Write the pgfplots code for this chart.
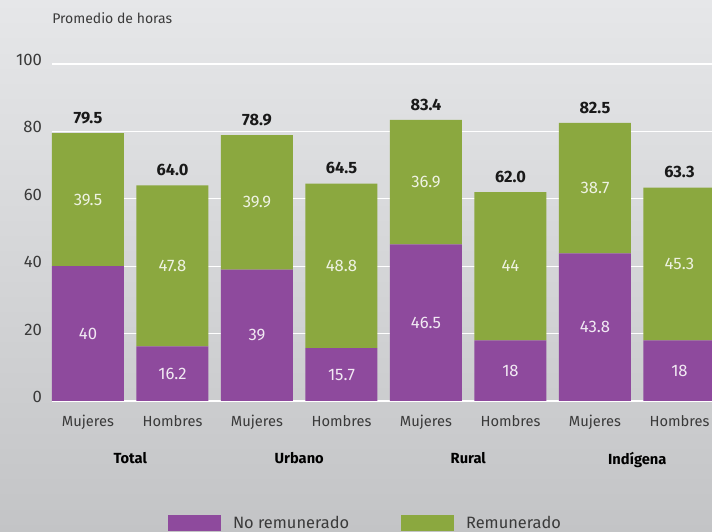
\documentclass[border=0pt]{standalone}
\usepackage{pgfplots}
\pgfplotsset{compat=1.18}
\usepackage{pgfplotstable}
\usepackage{fontspec}
\setmainfont{Fira Sans}
\usetikzlibrary{backgrounds}
\definecolor{barpurple}{HTML}{8E4A9D}
\definecolor{bargreen}{HTML}{8BA83F}
\definecolor{bgtop}{HTML}{E6E7E9}
\definecolor{bgbot}{HTML}{C3C4C6}
\definecolor{txt}{HTML}{3A3A3A}

\pgfplotstableread{
x p g t plab glab tlab
0 40 39.5 79.5 40 39.5 79.5
1 16.2 47.8 64.0 16.2 47.8 64.0
2 39 39.9 78.9 39 39.9 78.9
3 15.7 48.8 64.5 15.7 48.8 64.5
4 46.5 36.9 83.4 46.5 36.9 83.4
5 18 44 62.0 18 44 62.0
6 43.8 38.7 82.5 43.8 38.7 82.5
7 18 45.3 63.3 18 45.3 63.3
}\datatable

\pgfplotsset{common/.style={scale only axis, width=495pt, height=252.75pt,
  xmin=-0.426, xmax=7.385, ymin=0, ymax=100}}

\begin{document}
\begin{tikzpicture}
\begin{axis}[common, name=ax,
  ybar stacked, bar width=0.852,
  axis lines=left, axis line style={draw=none}, major tick length=0pt,
  ymajorgrids, grid style={white, line width=0.9pt},
  ytick={0,20,...,100},
  xtick={0,...,7},
  xticklabels={Mujeres,Hombres,Mujeres,Hombres,Mujeres,Hombres,Mujeres,Hombres},
  tick label style={font=\fontsize{11}{13}\selectfont, text=txt},
  yticklabel style={font=\fontsize{12.5}{14}\selectfont, xshift=-4pt, yshift=3pt},
  /pgf/number format/assume math mode=true,
  xticklabel style={yshift=-7pt},
  extra x ticks={0.5,2.5,4.5,6.5},
  extra x tick labels={Total,Urbano,Rural,Indígena},
  extra x tick style={xticklabel style={yshift=-28pt, font=\fontsize{11}{13}\selectfont\bfseries, text=black}},
  legend columns=2,
  legend style={at={(0.1758,-0.362)}, anchor=west, draw=none, fill=none,
    inner sep=0pt, outer sep=0pt, font=\fontsize{12.3}{14}\selectfont, text=txt,
    legend cell align=left,
    /tikz/every odd column/.append style={column sep=9pt},
    /tikz/every even column/.append style={column sep=39pt},
    nodes={inner sep=0pt}},
]
\addplot[fill=barpurple, draw=none,
  legend image code/.code={\fill[barpurple] (0pt,-6pt) rectangle (39.75pt,6pt);}]
  table[x=x,y=p]{\datatable};
\addplot[fill=bargreen, draw=none,
  legend image code/.code={\fill[bargreen] (0pt,-6pt) rectangle (39.75pt,6pt);}]
  table[x=x,y=g]{\datatable};
\legend{No remunerado, Remunerado}
\end{axis}

\begin{axis}[common, hide axis]
\addplot[draw=none, nodes near coords, point meta=explicit symbolic,
  nodes near coords style={anchor=center, font=\fontsize{12.5}{14}\selectfont, text=white!88!barpurple}]
  table[x=x, y expr=\thisrow{p}/2, meta=plab]{\datatable};
\addplot[draw=none, nodes near coords, point meta=explicit symbolic,
  nodes near coords style={anchor=center, font=\fontsize{12.5}{14}\selectfont, text=white!85!bargreen}]
  table[x=x, y expr=\thisrow{p}+\thisrow{g}/2, meta=glab]{\datatable};
\addplot[draw=none, nodes near coords, point meta=explicit symbolic,
  nodes near coords style={anchor=south, inner sep=0pt, yshift=7pt, font=\fontsize{12.3}{14}\selectfont\bfseries, text=black!90}]
  table[x=x, y=t, meta=tlab]{\datatable};
\end{axis}

\node[anchor=west, inner sep=0pt, font=\fontsize{10.5}{13}\selectfont, text=txt]
  at ([yshift=34.5pt]ax.north west) {Promedio de horas};

\begin{scope}[on background layer]
\shade[top color=bgtop, bottom color=bgbot]
  ([xshift=-39pt,yshift=-98.25pt]ax.south west) rectangle ([yshift=48pt]ax.north east);
\end{scope}
\pgfresetboundingbox
\path[use as bounding box] ([xshift=-39pt,yshift=-98.25pt]ax.south west) rectangle ([yshift=48pt]ax.north east);
\end{tikzpicture}
\end{document}
